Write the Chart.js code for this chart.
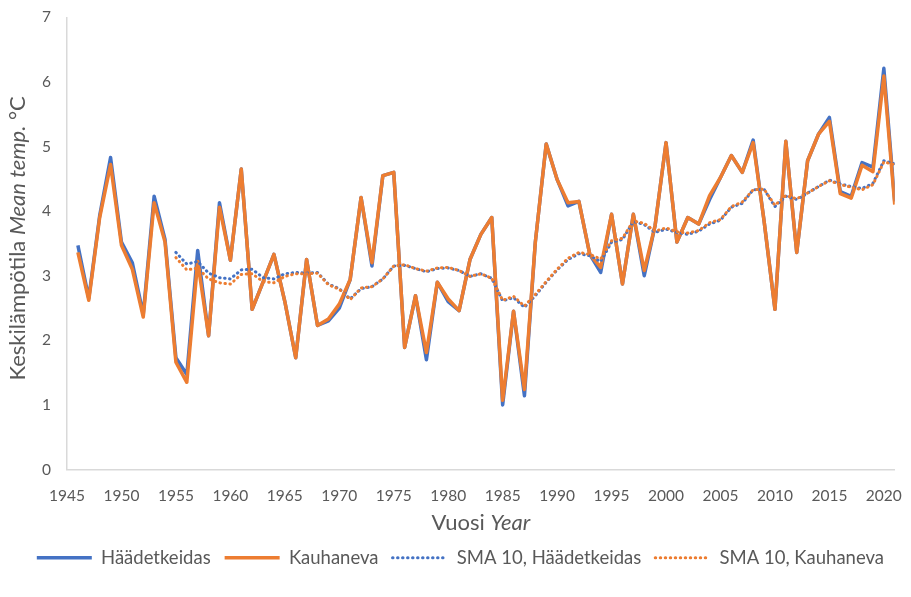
<!DOCTYPE html>
<html>
<head>
<meta charset="utf-8">
<script src="https://cdn.jsdelivr.net/npm/chart.js@4.4.1/dist/chart.umd.min.js"></script>
<style>
  html, body { margin: 0; padding: 0; background: #ffffff; }
  #wrap { width: 911px; height: 597px; }
</style>
</head>
<body>
<div id="wrap"><canvas id="tempChart" width="911" height="597"></canvas></div>
<script>
// annual mean temperature
const years = [
  1946, 1947, 1948, 1949, 1950, 1951, 1952, 1953, 1954, 1955,
  1956, 1957, 1958, 1959, 1960, 1961, 1962, 1963, 1964, 1965,
  1966, 1967, 1968, 1969, 1970, 1971, 1972, 1973, 1974, 1975,
  1976, 1977, 1978, 1979, 1980, 1981, 1982, 1983, 1984, 1985,
  1986, 1987, 1988, 1989, 1990, 1991, 1992, 1993, 1994, 1995,
  1996, 1997, 1998, 1999, 2000, 2001, 2002, 2003, 2004, 2005,
  2006, 2007, 2008, 2009, 2010, 2011, 2012, 2013, 2014, 2015,
  2016, 2017, 2018, 2019, 2020, 2021
];
const haadetkeidas = [
  3.47, 2.65, 3.93, 4.83, 3.52, 3.20, 2.40, 4.23, 3.56, 1.73,
  1.47, 3.39, 2.07, 4.13, 3.24, 4.65, 2.48, 2.90, 3.33, 2.60,
  1.73, 3.25, 2.23, 2.30, 2.50, 2.94, 4.21, 3.15, 4.55, 4.60,
  1.89, 2.69, 1.70, 2.90, 2.60, 2.46, 3.25, 3.64, 3.90, 1.00,
  2.45, 1.14, 3.52, 5.04, 4.49, 4.08, 4.15, 3.33, 3.05, 3.95,
  2.87, 3.95, 3.00, 3.78, 5.06, 3.52, 3.90, 3.80, 4.18, 4.52,
  4.86, 4.60, 5.10, 3.85, 2.48, 5.08, 3.36, 4.78, 5.19, 5.45,
  4.30, 4.23, 4.75, 4.68, 6.21, 4.15
];
const kauhaneva = [
  3.36, 2.62, 3.90, 4.72, 3.47, 3.10, 2.36, 4.13, 3.52, 1.66,
  1.35, 3.22, 2.07, 4.06, 3.24, 4.65, 2.48, 2.90, 3.33, 2.60,
  1.73, 3.25, 2.23, 2.33, 2.56, 2.94, 4.21, 3.20, 4.55, 4.60,
  1.89, 2.69, 1.81, 2.90, 2.64, 2.46, 3.25, 3.64, 3.90, 1.07,
  2.45, 1.24, 3.52, 5.04, 4.49, 4.13, 4.15, 3.33, 3.13, 3.95,
  2.87, 3.95, 3.08, 3.78, 5.06, 3.52, 3.90, 3.80, 4.24, 4.52,
  4.86, 4.60, 5.06, 3.85, 2.48, 5.08, 3.36, 4.78, 5.19, 5.39,
  4.27, 4.20, 4.71, 4.61, 6.09, 4.10
];

// 10-year moving averages (dotted lines), from 1955 on
const smaYears = [
  1955, 1956, 1957, 1958, 1959, 1960, 1961, 1962, 1963, 1964,
  1965, 1966, 1967, 1968, 1969, 1970, 1971, 1972, 1973, 1974,
  1975, 1976, 1977, 1978, 1979, 1980, 1981, 1982, 1983, 1984,
  1985, 1986, 1987, 1988, 1989, 1990, 1991, 1992, 1993, 1994,
  1995, 1996, 1997, 1998, 1999, 2000, 2001, 2002, 2003, 2004,
  2005, 2006, 2007, 2008, 2009, 2010, 2011, 2012, 2013, 2014,
  2015, 2016, 2017, 2018, 2019, 2020, 2021
];
const smaHaadetkeidas = [
  3.36, 3.18, 3.22, 3.04, 2.97, 2.95, 3.09, 3.10, 2.97, 2.95,
  3.03, 3.05, 3.04, 3.05, 2.87, 2.80, 2.64, 2.80, 2.83, 2.95,
  3.15, 3.16, 3.11, 3.06, 3.11, 3.12, 3.08, 2.99, 3.03, 2.96,
  2.61, 2.66, 2.51, 2.69, 2.90, 3.09, 3.25, 3.34, 3.31, 3.22,
  3.52, 3.56, 3.84, 3.79, 3.67, 3.72, 3.67, 3.64, 3.69, 3.80,
  3.86, 4.06, 4.12, 4.33, 4.34, 4.07, 4.23, 4.18, 4.28, 4.38,
  4.48, 4.42, 4.38, 4.35, 4.43, 4.78, 4.73
];
const smaKauhaneva = [
  3.28, 3.09, 3.12, 2.95, 2.89, 2.87, 3.02, 3.03, 2.91, 2.89,
  2.99, 3.03, 3.03, 3.04, 2.86, 2.79, 2.63, 2.81, 2.83, 2.95,
  3.15, 3.17, 3.11, 3.07, 3.12, 3.13, 3.08, 2.99, 3.03, 2.96,
  2.62, 2.68, 2.53, 2.71, 2.91, 3.10, 3.27, 3.36, 3.33, 3.26,
  3.54, 3.58, 3.85, 3.81, 3.69, 3.74, 3.68, 3.66, 3.70, 3.82,
  3.87, 4.07, 4.14, 4.33, 4.34, 4.09, 4.24, 4.19, 4.28, 4.38,
  4.47, 4.41, 4.37, 4.33, 4.41, 4.76, 4.72
];

const xTicks = [1945, 1950, 1955, 1960, 1965, 1970, 1975, 1980, 1985, 1990, 1995, 2000, 2005, 2010, 2015, 2020];
const yTicks = [0, 1, 2, 3, 4, 5, 6, 7];

const BLUE = "#4472C4";
const ORANGE = "#ED7D31";
const TEXT = "#595959";
const FONT = "Lato, 'Open Sans', sans-serif";

const pts = (xs, ys) => xs.map((x, i) => ({ x: x, y: ys[i] }));

// axis titles have italic parts, so they are drawn here instead of by the scales
function drawMixed(ctx, parts, x, y, rot, size) {
  ctx.save();
  ctx.translate(x, y);
  ctx.rotate(rot);
  ctx.fillStyle = TEXT;
  ctx.textBaseline = "middle";
  ctx.textAlign = "left";
  let total = 0;
  parts.forEach(p => {
    ctx.font = (p[1] ? "italic " : "") + size + "px " + FONT;
    p.w = ctx.measureText(p[0]).width;
    total += p.w;
  });
  let cx = -total / 2;
  parts.forEach(p => {
    ctx.font = (p[1] ? "italic " : "") + size + "px " + FONT;
    ctx.fillText(p[0], cx, 0);
    cx += p.w;
  });
  ctx.restore();
}

const axisTitles = {
  id: "axisTitles",
  afterDraw(chart) {
    const a = chart.chartArea;
    drawMixed(chart.ctx, [["Vuosi ", false], ["Year", true]], (a.left + a.right) / 2, 523, 0, 22);
    drawMixed(chart.ctx, [["Keskilämpötila ", false], ["Mean temp.", true], [" °C", false]],
      18, (a.top + a.bottom) / 2 - 5, -Math.PI / 2, 22);
  }
};

const datasets = [
  { label: "Häädetkeidas", data: pts(years, haadetkeidas), borderColor: BLUE, borderWidth: 3.5, order: 4 },
  { label: "Kauhaneva", data: pts(years, kauhaneva), borderColor: ORANGE, borderWidth: 3.5, order: 3 },
  { label: "SMA 10, Häädetkeidas", data: pts(smaYears, smaHaadetkeidas), borderColor: BLUE, borderWidth: 3,
    borderDash: [0.5, 4.5], borderCapStyle: "round", order: 2 },
  { label: "SMA 10, Kauhaneva", data: pts(smaYears, smaKauhaneva), borderColor: ORANGE, borderWidth: 3,
    borderDash: [0.5, 4.5], borderCapStyle: "round", order: 1 }
];
datasets.forEach(d => {
  d.pointRadius = 0;
  d.fill = false;
  d.tension = 0;
  d.borderJoinStyle = "round";
  d.backgroundColor = d.borderColor;
});

new Chart(document.getElementById("tempChart").getContext("2d"), {
  type: "line",
  data: { datasets: datasets },
  options: {
    responsive: false,
    animation: false,
    layout: { padding: { left: 0, right: 13, top: 15, bottom: 20 } },
    plugins: {
      tooltip: { enabled: false },
      legend: {
        position: "bottom",
        align: "end",
        labels: {
          usePointStyle: true,
          pointStyleWidth: 55,
          boxHeight: 14,
          padding: 14,
          color: TEXT,
          font: { family: FONT, size: 18.5 },
          generateLabels: chart => chart.data.datasets.map((d, i) => ({
            text: d.label,
            fillStyle: d.borderColor,
            strokeStyle: d.borderColor,
            fontColor: TEXT,
            lineWidth: d.borderDash ? 3 : 3.5,
            lineDash: d.borderDash || [],
            lineCap: d.borderDash ? "round" : "butt",
            pointStyle: "line",
            hidden: false,
            datasetIndex: i
          }))
        }
      }
    },
    scales: {
      x: {
        type: "linear",
        min: 1945,
        max: 2021,
        grid: { display: false, drawTicks: true, tickLength: 8 },
        border: { display: true, color: "#D9D9D9", width: 1.5 },
        ticks: { color: TEXT, font: { family: FONT, size: 15.5 }, padding: 9, maxRotation: 0,
          callback: v => String(v) },
        afterBuildTicks: s => { s.ticks = xTicks.map(v => ({ value: v })); },
        afterFit: s => { s.height = 65; }
      },
      y: {
        min: 0,
        max: 7,
        grid: { display: false, drawTicks: true, tickLength: 8 },
        border: { display: true, color: "#D9D9D9", width: 1.5 },
        ticks: { color: TEXT, font: { family: FONT, size: 15.5 }, padding: 8 },
        afterBuildTicks: s => { s.ticks = yTicks.map(v => ({ value: v })); },
        afterFit: s => { s.width = 67; }
      }
    }
  },
  plugins: [axisTitles]
});
</script>
</body>
</html>
